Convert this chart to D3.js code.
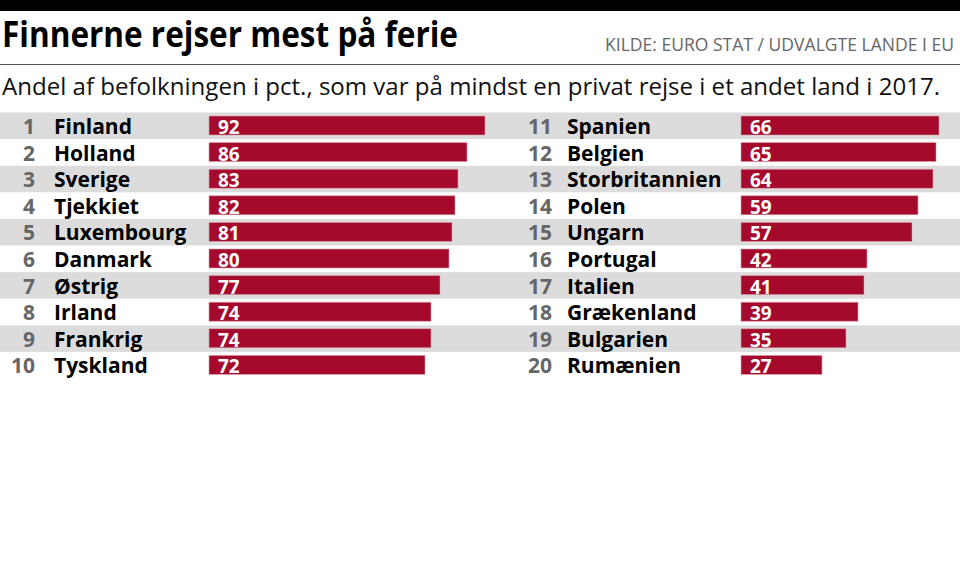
<!DOCTYPE html>
<html>
<head>
<meta charset="utf-8">
<script src="https://cdn.jsdelivr.net/npm/d3@7"></script>
<style>
  body { margin: 0; background: #fff; }
  svg { display: block; font-family: "Open Sans", "Noto Sans", sans-serif; }
</style>
</head>
<body>
<div id="chart"></div>
<script>
// data, ranked
const COUNTRIES = [
  "Finland", "Holland", "Sverige", "Tjekkiet", "Luxembourg",
  "Danmark", "Østrig", "Irland", "Frankrig", "Tyskland",
  "Spanien", "Belgien", "Storbritannien", "Polen", "Ungarn",
  "Portugal", "Italien", "Grækenland", "Bulgarien", "Rumænien"
];
const VALUES = [92, 86, 83, 82, 81, 80, 77, 74, 74, 72,
                66, 65, 64, 59, 57, 42, 41, 39, 35, 27];

const TITLE = "Finnerne rejser mest på ferie";
const SOURCE = "KILDE: EURO STAT / UDVALGTE LANDE I EU";
const SUBTITLE = "Andel af befolkningen i pct., som var på mindst en privat rejse i et andet land i 2017.";

const BAR_COLOUR = "#a50a2c";
const BAND_COLOUR = "#dcdcdc";

const width = 960, height = 576;

const svg = d3.select("#chart").append("svg")
  .attr("width", width)
  .attr("height", height);

// top black strip
svg.append("rect")
  .attr("x", 0).attr("y", 0)
  .attr("width", width).attr("height", 11)
  .attr("fill", "#000");

// squeeze text into a width (the original uses a narrow font)
function fitText(sel, w) {
  sel.attr("textLength", w).attr("lengthAdjust", "spacingAndGlyphs");
  return sel;
}

const title = svg.append("text")
  .attr("x", 2).attr("y", 47)
  .attr("font-size", 35)
  .attr("font-weight", 700)
  .attr("fill", "#000")
  .text(TITLE);
fitText(title, 456);

const source = svg.append("text")
  .attr("x", 605).attr("y", 51)
  .attr("font-size", 17.5)
  .attr("fill", "#666")
  .text(SOURCE);
fitText(source, 349);

svg.append("line")
  .attr("x1", 0).attr("x2", width)
  .attr("y1", 64.5).attr("y2", 64.5)
  .attr("stroke", "#555")
  .attr("stroke-width", 1);

const sub = svg.append("text")
  .attr("x", 2).attr("y", 95)
  .attr("font-size", 24.5)
  .attr("fill", "#111")
  .text(SUBTITLE);
fitText(sub, 938);

// rows
const rowsPerCol = 10;
const rows = COUNTRIES.map((c, i) => ({
  rank: i + 1,
  name: c,
  value: VALUES[i],
  col: Math.floor(i / rowsPerCol),
  row: i % rowsPerCol
}));

const y = d3.scaleBand()
  .domain(d3.range(rowsPerCol))
  .range([112.5, 112.5 + 26.6 * rowsPerCol]);

const x = d3.scaleLinear().domain([0, 100]).range([0, 300]);

const cols = [
  { rankX: 35, nameX: 54, barX: 209 },
  { rankX: 552, nameX: 567, barX: 741 }
];

// grey bands on odd ranks (full width)
svg.selectAll("rect.band")
  .data(d3.range(0, rowsPerCol, 2))
  .enter().append("rect")
  .attr("class", "band")
  .attr("x", 0)
  .attr("y", d => y(d))
  .attr("width", width)
  .attr("height", y.bandwidth())
  .attr("fill", BAND_COLOUR);

const g = svg.selectAll("g.item")
  .data(rows)
  .enter().append("g")
  .attr("class", "item")
  .attr("transform", d => `translate(0,${y(d.row)})`);

g.append("text")
  .attr("x", d => cols[d.col].rankX)
  .attr("y", 21.5)
  .attr("text-anchor", "end")
  .attr("font-size", 21)
  .attr("font-weight", 700)
  .attr("fill", "#666")
  .text(d => d.rank);

g.append("text")
  .attr("x", d => cols[d.col].nameX)
  .attr("y", 21.5)
  .attr("font-size", 21)
  .attr("font-weight", 700)
  .attr("fill", "#000")
  .text(d => d.name);

g.append("rect")
  .attr("x", d => cols[d.col].barX)
  .attr("y", 3.5)
  .attr("width", d => x(d.value))
  .attr("height", 19)
  .attr("fill", BAR_COLOUR)
  .attr("stroke", "#d9a0ad")
  .attr("stroke-width", 0.6);

g.append("text")
  .attr("x", d => cols[d.col].barX + 9)
  .attr("y", 21.5)
  .attr("font-size", 19)
  .attr("font-weight", 700)
  .attr("fill", "#fff")
  .text(d => d.value);
</script>
</body>
</html>
